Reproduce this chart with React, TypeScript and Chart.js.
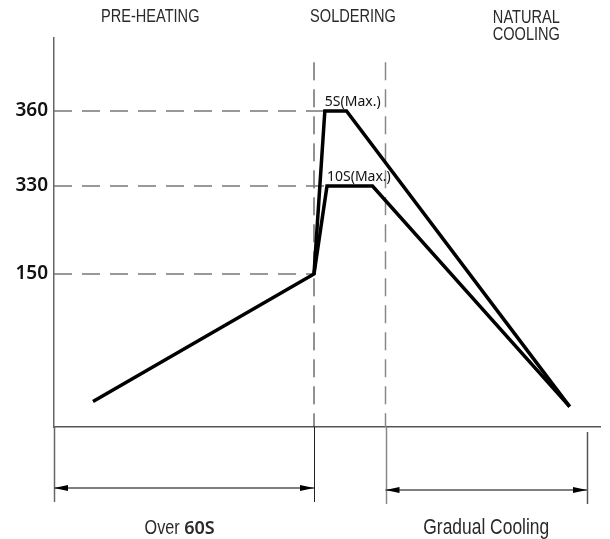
import React, { useEffect, useRef } from 'react';
import { Chart, registerables, LinearScale } from 'chart.js';

Chart.register(...registerables);

// ---- data (time in s, temperature in °C) ----
const CURVE_5S_TIME = [9, 60, 62.5, 67.5, 119];
const CURVE_5S_TEMP = [25, 150, 360, 360, 20];
const CURVE_10S_TIME = [60, 63, 73.5, 119];
const CURVE_10S_TEMP = [150, 330, 330, 20];
const Y_TICKS = [150, 330, 360];
const Y_GUIDE_END_TIME = [60, 63, 62.5]; // where each tick level meets the curve
const PHASE_BOUNDS = [60, 76.5];
const COOLING_END = 123;
const GUIDE_TOP = 380;
const PEAK_LABELS = ['5S(Max.)', '10S(Max.)'];
const PEAK_LABEL_TIME = [62.5, 63];
const PEAK_LABEL_TEMP = [360, 330];
const PHASE_LABELS = ['PRE-HEATING', 'SOLDERING', 'NATURAL', 'COOLING'];
const SPAN_LABELS = ['Over ', '60S', 'Gradual Cooling'];

// schematic (non-linear) temperature axis: knots of the drawing
const KNOT_TEMPS = [0, 150, 330, 360, 390];
const KNOT_FRACS = [0, 0.3933, 0.6195, 0.8123, 1];

function interp(v: number, xs: number[], ys: number[]) {
  let i = 0;
  if (v <= xs[0]) i = 0;
  else if (v >= xs[xs.length - 1]) i = xs.length - 2;
  else {
    while (i < xs.length - 2 && v > xs[i + 1]) i++;
  }
  const t = (v - xs[i]) / (xs[i + 1] - xs[i]);
  return ys[i] + t * (ys[i + 1] - ys[i]);
}

class PiecewiseScale extends LinearScale {
  static id = 'piecewise';
  static defaults = LinearScale.defaults;
  getPixelForValue(value: number) {
    return this.getPixelForDecimal(interp(value, KNOT_TEMPS, KNOT_FRACS));
  }
  getValueForPixel(pixel: number) {
    return interp(this.getDecimalForPixel(pixel), KNOT_FRACS, KNOT_TEMPS);
  }
}
Chart.register(PiecewiseScale as any);

const SANS = '"Liberation Sans", Arial, sans-serif';
const NOTO = '"Noto Sans", "Open Sans", sans-serif';
const NARROW_K = 0.81;

// draw text in a narrow (condensed) style by scaling Liberation Sans horizontally
function narrowText(
  ctx: CanvasRenderingContext2D,
  text: string,
  px: number,
  py: number,
  size: number,
  align: 'left' | 'center'
) {
  ctx.save();
  ctx.font = `${size}px ${SANS}`;
  ctx.textAlign = align;
  ctx.translate(px, py);
  ctx.scale(NARROW_K, 1);
  ctx.fillText(text, 0, 0);
  ctx.restore();
}
function narrowWidth(ctx: CanvasRenderingContext2D, text: string, size: number) {
  ctx.save();
  ctx.font = `${size}px ${SANS}`;
  const w = ctx.measureText(text).width * NARROW_K;
  ctx.restore();
  return w;
}

function arrow(ctx: CanvasRenderingContext2D, x1: number, x2: number, yy: number) {
  ctx.strokeStyle = '#555';
  ctx.lineWidth = 1.5;
  ctx.beginPath();
  ctx.moveTo(x1, yy);
  ctx.lineTo(x2, yy);
  ctx.stroke();
  ctx.fillStyle = '#000';
  const L = 14, H = 3;
  ctx.beginPath();
  ctx.moveTo(x1, yy);
  ctx.lineTo(x1 + L, yy - H);
  ctx.lineTo(x1 + L, yy + H);
  ctx.closePath();
  ctx.fill();
  ctx.beginPath();
  ctx.moveTo(x2, yy);
  ctx.lineTo(x2 - L, yy - H);
  ctx.lineTo(x2 - L, yy + H);
  ctx.closePath();
  ctx.fill();
}

const annotations = {
  id: 'annotations',
  afterDraw(chart: any) {
    const { ctx, chartArea, scales } = chart;
    const x = scales.x;
    const y = scales.y;
    const bottom = chartArea.bottom;
    ctx.save();

    // phase titles
    ctx.fillStyle = '#2a2a2a';
    ctx.textBaseline = 'middle';
    narrowText(ctx, PHASE_LABELS[0], x.getPixelForValue(22.2), 17, 18, 'center');
    narrowText(ctx, PHASE_LABELS[1], x.getPixelForValue(69), 17, 18, 'center');
    narrowText(ctx, PHASE_LABELS[2], x.getPixelForValue(109), 18, 18, 'center');
    narrowText(ctx, PHASE_LABELS[3], x.getPixelForValue(109), 35, 18, 'center');

    // peak labels
    ctx.fillStyle = '#111';
    ctx.font = `14px ${NOTO}`;
    ctx.textAlign = 'left';
    ctx.textBaseline = 'alphabetic';
    PEAK_LABELS.forEach((t, i) => {
      ctx.fillText(t, x.getPixelForValue(PEAK_LABEL_TIME[i]), y.getPixelForValue(PEAK_LABEL_TEMP[i]) - 5);
    });

    // extension lines below the axis
    const ext = [0, PHASE_BOUNDS[0], PHASE_BOUNDS[1], COOLING_END];
    const extCol = ['#666', '#222', '#888', '#555'];
    const extTop = [bottom, bottom, bottom, bottom + 5];
    const extBot = [bottom + 75, bottom + 75, bottom + 77, bottom + 77];
    ext.forEach((v, i) => {
      const px = Math.round(x.getPixelForValue(v)) + 0.5;
      ctx.strokeStyle = extCol[i];
      ctx.lineWidth = i === 1 ? 1 : 1.5;
      ctx.beginPath();
      ctx.moveTo(px, extTop[i]);
      ctx.lineTo(px, extBot[i]);
      ctx.stroke();
    });

    // span arrows
    arrow(ctx, x.getPixelForValue(0), x.getPixelForValue(PHASE_BOUNDS[0]), bottom + 61);
    arrow(ctx, x.getPixelForValue(PHASE_BOUNDS[1]), x.getPixelForValue(COOLING_END), bottom + 63);

    // span labels
    ctx.fillStyle = '#2a2a2a';
    ctx.textBaseline = 'alphabetic';
    const ty = bottom + 107;
    const w1 = narrowWidth(ctx, SPAN_LABELS[0], 20);
    ctx.font = `600 18px ${NOTO}`;
    const w2 = ctx.measureText(SPAN_LABELS[1]).width;
    const cx = x.getPixelForValue(29);
    const sx = cx - (w1 + w2) / 2;
    narrowText(ctx, SPAN_LABELS[0], sx, ty, 20, 'left');
    ctx.font = `600 18px ${NOTO}`;
    ctx.textAlign = 'left';
    ctx.fillText(SPAN_LABELS[1], sx + w1, ty);
    narrowText(ctx, SPAN_LABELS[2], x.getPixelForValue((PHASE_BOUNDS[1] + COOLING_END) / 2), ty, 21.5, 'center');

    ctx.restore();
  },
};

function pts(xs: number[], ys: number[]) {
  return xs.map((v, i) => ({ x: v, y: ys[i] }));
}

export default function App() {
  const ref = useRef<HTMLCanvasElement | null>(null);
  useEffect(() => {
    if (!ref.current) return;
    const curveStyle = {
      borderColor: '#000',
      borderWidth: 3.5,
      pointRadius: 0,
      tension: 0,
      borderJoinStyle: 'miter' as const,
      fill: false,
    };
    const hGuides = Y_TICKS.map((v, i) => ({
      data: [
        { x: 0, y: v },
        { x: Y_GUIDE_END_TIME[i], y: v },
      ],
      borderColor: '#777',
      borderWidth: 1.5,
      borderDash: [18, 10],
      pointRadius: 0,
      fill: false,
    }));
    const vGuides = PHASE_BOUNDS.map((b, i) => ({
      data: [
        { x: b, y: GUIDE_TOP },
        { x: b, y: 0 },
      ],
      borderColor: i === 0 ? '#222' : '#888',
      borderWidth: i === 0 ? 1 : 1.5,
      borderDash: [18, 9],
      pointRadius: 0,
      fill: false,
    }));
    const chart = new Chart(ref.current, {
      type: 'line',
      data: {
        datasets: [
          { ...curveStyle, data: pts(CURVE_5S_TIME, CURVE_5S_TEMP) },
          { ...curveStyle, data: pts(CURVE_10S_TIME, CURVE_10S_TEMP) },
          ...hGuides,
          ...vGuides,
        ] as any,
      },
      options: {
        responsive: false,
        animation: false,
        layout: { padding: { top: 38, right: 10, bottom: 112, left: 0 } },
        plugins: { legend: { display: false }, tooltip: { enabled: false } },
        scales: {
          x: {
            type: 'linear',
            min: 0,
            max: 126,
            grid: { display: false, drawTicks: false },
            ticks: { display: false },
            border: { display: true, color: '#555', width: 1.5 },
          },
          y: {
            type: 'piecewise' as any,
            min: 0,
            max: 390,
            afterBuildTicks: (s: any) => {
              s.ticks = Y_TICKS.map((v) => ({ value: v }));
            },
            afterFit: (s: any) => {
              s.width = 54;
            },
            grid: { display: false, drawTicks: false },
            ticks: {
              padding: 6,
              color: '#111',
              font: { family: '"Noto Sans", "Open Sans", sans-serif', size: 19, weight: '600' as any },
              callback: (v: any) => String(v),
            },
            border: { display: true, color: '#666', width: 1.5 },
          },
        } as any,
      },
      plugins: [annotations],
    });
    return () => chart.destroy();
  }, []);
  return (
    <div style={{ position: 'fixed', left: 0, top: 0, width: 610, height: 539, background: '#fff' }}>
      <canvas ref={ref} width={610} height={539} />
    </div>
  );
}
